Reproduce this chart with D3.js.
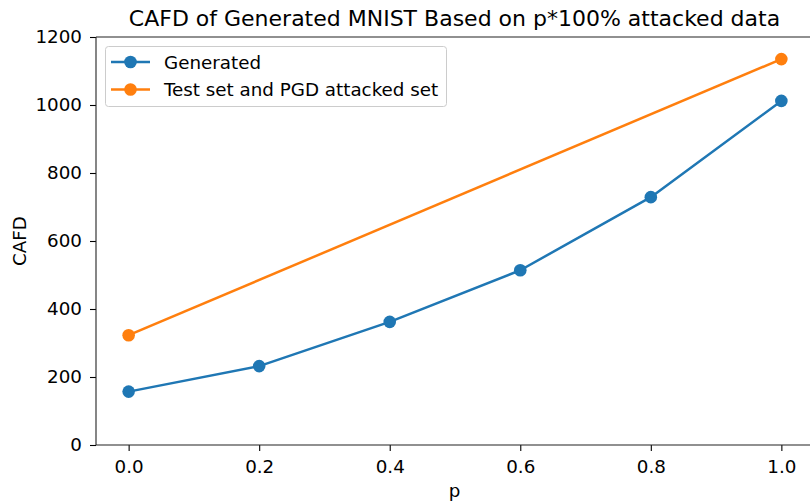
<!DOCTYPE html>
<html>
<head>
<meta charset="utf-8">
<script src="https://cdn.jsdelivr.net/npm/d3@7"></script>
<style>
  html, body { margin: 0; padding: 0; background: #fff; overflow: hidden; }
  svg { display: block; font-family: "DejaVu Sans", sans-serif; }
</style>
</head>
<body>
<svg id="chart" width="810" height="502"></svg>
<script>
// CAFD measured at each attack proportion p
const pValues = [0.0, 0.2, 0.4, 0.6, 0.8, 1.0];
const generatedCafd = [157, 232, 362, 514, 729, 1012];
const baselineP = [0.0, 1.0];
const baselineCafd = [323, 1135];
const xTicks = [0.0, 0.2, 0.4, 0.6, 0.8, 1.0];
const yTicks = [0, 200, 400, 600, 800, 1000, 1200];

const series = [
  { name: "Generated", color: "#1f77b4", xs: pValues, ys: generatedCafd },
  { name: "Test set and PGD attacked set", color: "#ff7f0e", xs: baselineP, ys: baselineCafd }
];

const svg = d3.select("#chart");
const margin = { left: 96, top: 37, right: -4, bottom: 57 };
const W = 810, H = 502;
const plotL = margin.left, plotR = W - margin.right, plotT = margin.top, plotB = H - margin.bottom;

const x = d3.scaleLinear().domain([-0.05, 1.05]).range([plotL, plotR]);
const y = d3.scaleLinear().domain([0, 1200]).range([plotB, plotT]);

const tickFont = "18.3px";

// axes
const xAxis = svg.append("g").attr("transform", `translate(0,${plotB})`)
  .call(d3.axisBottom(x).tickValues(xTicks).tickFormat(d3.format(".1f")).tickSizeOuter(0).tickSize(6).tickPadding(9));
const yAxis = svg.append("g").attr("transform", `translate(${plotL},0)`)
  .call(d3.axisLeft(y).tickValues(yTicks).tickFormat(d3.format("d")).tickSizeOuter(0).tickSize(6).tickPadding(8));
[xAxis, yAxis].forEach(g => {
  g.attr("font-size", null).attr("font-family", null);
  g.select(".domain").remove();
  g.selectAll(".tick line").attr("stroke", "#000").attr("stroke-width", 1.1);
  g.selectAll(".tick text").attr("fill", "#000").style("font-size", tickFont);
});

// spines
svg.append("line").attr("x1", plotL).attr("x2", plotL).attr("y1", plotT).attr("y2", plotB).attr("stroke", "#222").attr("stroke-width", 1.1);
svg.append("line").attr("x1", plotL).attr("x2", plotR).attr("y1", plotB).attr("y2", plotB).attr("stroke", "#222").attr("stroke-width", 1.1);
svg.append("line").attr("x1", plotL).attr("x2", plotR).attr("y1", plotT).attr("y2", plotT).attr("stroke", "#222").attr("stroke-width", 1.1);

// lines and markers
const line = d3.line().x(d => x(d[0])).y(d => y(d[1]));
series.forEach(s => {
  const pts = s.xs.map((v, i) => [v, s.ys[i]]);
  svg.append("path").datum(pts).attr("d", line).attr("fill", "none")
    .attr("stroke", s.color).attr("stroke-width", 2.5).attr("stroke-linejoin", "round").attr("stroke-linecap", "square");
  svg.append("g").selectAll("circle").data(pts).join("circle")
    .attr("cx", d => x(d[0])).attr("cy", d => y(d[1])).attr("r", 6.3).attr("fill", s.color);
});

// title and labels
svg.append("text").attr("x", 454.5).attr("y", 26).attr("text-anchor", "middle")
  .style("font-size", "22px").attr("fill", "#000")
  .text("CAFD of Generated MNIST Based on p*100% attacked data");
svg.append("text").attr("x", 454.5).attr("y", 497).attr("text-anchor", "middle")
  .style("font-size", tickFont).attr("fill", "#000").text("p");
svg.append("text").attr("transform", "translate(26,241) rotate(-90)").attr("text-anchor", "middle")
  .style("font-size", tickFont).attr("fill", "#000").text("CAFD");

// legend
const lg = svg.append("g").attr("transform", "translate(105,46)");
lg.append("rect").attr("x", 0.5).attr("y", 0.5).attr("width", 341).attr("height", 60).attr("rx", 3)
  .attr("fill", "#fff").attr("fill-opacity", 0.8).attr("stroke", "#ccc").attr("stroke-width", 1);
series.forEach((s, i) => {
  const cy = 16 + i * 27.5;
  lg.append("line").attr("x1", 6).attr("x2", 45).attr("y1", cy).attr("y2", cy).attr("stroke", s.color).attr("stroke-width", 2.5);
  lg.append("circle").attr("cx", 25.5).attr("cy", cy).attr("r", 6.3).attr("fill", s.color);
  lg.append("text").attr("x", 59).attr("y", cy + 6.5).style("font-size", tickFont).attr("fill", "#000").text(s.name);
});
</script>
</body>
</html>
